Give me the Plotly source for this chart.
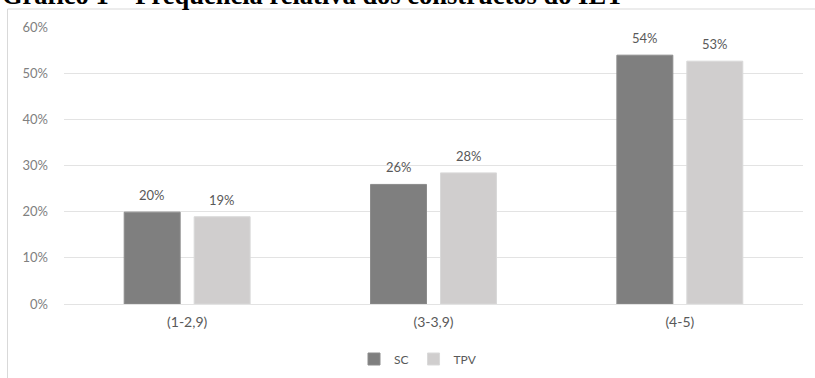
import plotly.graph_objects as go

# Score bands and relative frequency of each construct
categories = ["(1-2,9)", "(3-3,9)", "(4-5)"]
sc_values = [0.199, 0.259, 0.539]
tpv_values = [0.189, 0.284, 0.526]
series_names = ["SC", "TPV"]
y_ticks = [0, 0.1, 0.2, 0.3, 0.4, 0.5, 0.6]
title_text = "Gráfico 1 – Frequência relativa dos constructos do IET"

W, H = 815, 378
L, R, T, B = 64, 12, 27, 74
plot_w = W - L - R
plot_h = H - T - B

def px_x(px):
    return (px - L) / plot_w

def px_y(py):
    return (H - B - py) / plot_h

sc_color = "#7f7f7f"
tpv_color = "#d0cece"
font_family = "Lato, 'Liberation Sans', sans-serif"

fig = go.Figure()
fig.add_trace(go.Bar(
    x=categories, y=sc_values, name=series_names[0],
    marker=dict(color=sc_color, line=dict(color="#8c8c8c", width=1)),
))
fig.add_trace(go.Bar(
    x=categories, y=tpv_values, name=series_names[1],
    marker=dict(color=tpv_color, line=dict(color="#d9d9d9", width=1)),
))

# Value labels above each bar
annotations = []
for vals, shift in ((sc_values, -35), (tpv_values, 35)):
    for cat, v in zip(categories, vals):
        annotations.append(dict(
            x=cat, y=v, xref="x", yref="y", text=f"{v:.0%}",
            showarrow=False, xshift=shift, yshift=7, yanchor="bottom",
            font=dict(family=font_family, size=13, color="#595959"),
        ))

# Caption above the chart frame
annotations.append(dict(
    x=px_x(0), y=px_y(12), xref="paper", yref="paper", text=f"<b>{title_text}</b>",
    showarrow=False, xanchor="left", yanchor="bottom",
    font=dict(family="'Liberation Serif', 'Times New Roman', serif", size=26.5, color="#000000"),
))

fig.update_layout(
    width=W, height=H,
    margin=dict(l=L, r=R, t=T, b=B, autoexpand=False),
    paper_bgcolor="white", plot_bgcolor="white",
    barmode="group", bargap=0.432, bargroupgap=0.2,
    showlegend=True,
    legend=dict(
        orientation="h", x=px_x(418), xanchor="center", y=px_y(359), yanchor="middle",
        font=dict(family=font_family, size=12, color="#595959"),
        itemwidth=30, traceorder="normal",
    ),
    annotations=annotations,
    shapes=[dict(
        type="rect", xref="paper", yref="paper",
        x0=px_x(7.5), x1=px_x(830), y0=px_y(400), y1=px_y(9),
        line=dict(color="#d9d9d9", width=1), fillcolor="rgba(0,0,0,0)", layer="below",
    )],
    xaxis=dict(
        showgrid=False, showline=False, zeroline=False, ticks="",
        tickfont=dict(family=font_family, size=14, color="#595959"),
        ticklabelstandoff=8,
    ),
    yaxis=dict(
        range=[0, 0.6], tickvals=y_ticks, tickformat=".0%",
        showgrid=True, gridcolor="#e3e3e3", gridwidth=1,
        zeroline=True, zerolinecolor="#e3e3e3", zerolinewidth=1,
        showline=False, ticks="",
        tickfont=dict(family=font_family, size=13, color="#808080"),
        ticklabelstandoff=15,
    ),
)

fig.write_html("out.html")
